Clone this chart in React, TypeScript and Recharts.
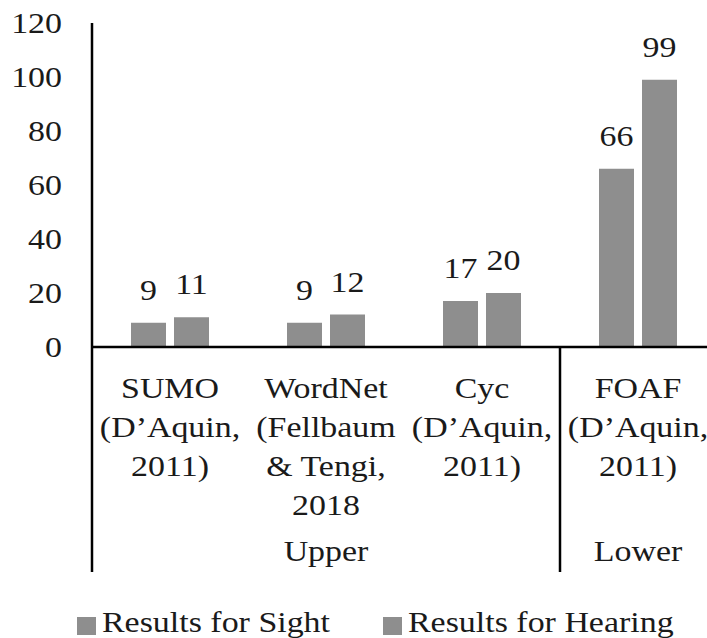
import { BarChart, Bar, XAxis, YAxis, Legend, LabelList } from 'recharts';

const categories = [
  'SUMO\n(D’Aquin,\n2011)',
  'WordNet\n(Fellbaum\n& Tengi,\n2018',
  'Cyc\n(D’Aquin,\n2011)',
  'FOAF\n(D’Aquin,\n2011)',
];
const groups = ['Upper', 'Upper', 'Upper', 'Lower'];
const sightValues = [9, 9, 17, 66];
const hearingValues = [11, 12, 20, 99];
const yTicks = [0, 20, 40, 60, 80, 100, 120];

const seriesNames = ['Results for Sight', 'Results for Hearing'];

const data = categories.map((name, i) => ({
  name,
  sight: sightValues[i],
  hearing: hearingValues[i],
}));

const FONT = 'Liberation Serif, Times New Roman, serif';
const FS = 28.5;
const SX = 1.19; // the source text is a little wider than Times
const TEXT = '#1a1a1a';
const BAR = '#8e8e8e';
const CHART_W = 716;
const CHART_H = 638;
const Y_AXIS_W = 92;
const BAND = (CHART_W - Y_AXIS_W) / categories.length;

function WideText({ x, y, anchor = 'middle', children }: any) {
  return (
    <text
      transform={`translate(${x},${y}) scale(${SX},1)`}
      x={0}
      y={0}
      textAnchor={anchor}
      fontFamily={FONT}
      fontSize={FS}
      fill={TEXT}
    >
      {children}
    </text>
  );
}

function CategoryTick(props: any) {
  const { x, y, payload } = props;
  const i = payload.index;
  const lines = String(payload.value).split('\n');
  const g = groups[i];
  const first = groups.indexOf(g);
  const last = groups.lastIndexOf(g);
  const isFirst = i === first;
  return (
    <g>
      {lines.map((l, k) => (
        <WideText key={k} x={x} y={y + 51 + k * 39}>
          {l}
        </WideText>
      ))}
      {isFirst && (
        <line x1={x - BAND / 2} x2={x - BAND / 2} y1={y} y2={y + 225} stroke="#000" strokeWidth={2.5} />
      )}
      {isFirst && (
        <WideText x={x + ((last - first) * BAND) / 2} y={y + 214}>
          {g}
        </WideText>
      )}
    </g>
  );
}

function YTick(props: any) {
  const { x, y, payload } = props;
  return (
    <WideText x={x} y={y + 10} anchor="end">
      {payload.value}
    </WideText>
  );
}

function ValueLabel(props: any) {
  const { x, y, width, value } = props;
  return (
    <WideText x={x + width / 2} y={y - 23}>
      {value}
    </WideText>
  );
}

function LegendContent() {
  const item = (label: string, left: number) => (
    <div style={{ position: 'absolute', left, top: 0, height: 38 }}>
      <span style={{ position: 'absolute', left: 0, top: 17, width: 19, height: 18, background: BAR }} />
      <span
        style={{
          position: 'absolute',
          left: 25,
          top: 2,
          fontFamily: FONT,
          fontSize: FS,
          color: TEXT,
          whiteSpace: 'nowrap',
          lineHeight: '42px',
          transform: `scaleX(${SX})`,
          transformOrigin: 'left center',
        }}
      >
        {label}
      </span>
    </div>
  );
  return (
    <div style={{ position: 'relative', height: 38 }}>
      {item(seriesNames[0], 77)}
      {item(seriesNames[1], 383)}
    </div>
  );
}

export default function App() {
  return (
    <div style={{ position: 'absolute', left: 0, top: 0, width: 707, height: 638, overflow: 'hidden', background: '#fff' }}>
      <BarChart
        width={CHART_W}
        height={CHART_H}
        data={data}
        margin={{ top: 23, right: 0, bottom: 0, left: 0 }}
        barSize={35}
        barGap={8}
      >
        <XAxis
          dataKey="name"
          interval={0}
          height={253}
          tickLine={false}
          tickSize={0}
          tickMargin={0}
          axisLine={{ stroke: '#000', strokeWidth: 2.5 }}
          tick={<CategoryTick />}
        />
        <YAxis
          width={Y_AXIS_W}
          domain={[0, 120]}
          ticks={yTicks}
          interval={0}
          tickLine={false}
          tickSize={0}
          tickMargin={30}
          axisLine={{ stroke: '#000', strokeWidth: 2.5 }}
          tick={<YTick />}
        />
        <Legend verticalAlign="bottom" height={38} content={<LegendContent />} />
        <Bar dataKey="sight" name={seriesNames[0]} fill={BAR} isAnimationActive={false}>
          <LabelList dataKey="sight" content={<ValueLabel />} />
        </Bar>
        <Bar dataKey="hearing" name={seriesNames[1]} fill={BAR} isAnimationActive={false}>
          <LabelList dataKey="hearing" content={<ValueLabel />} />
        </Bar>
      </BarChart>
    </div>
  );
}
